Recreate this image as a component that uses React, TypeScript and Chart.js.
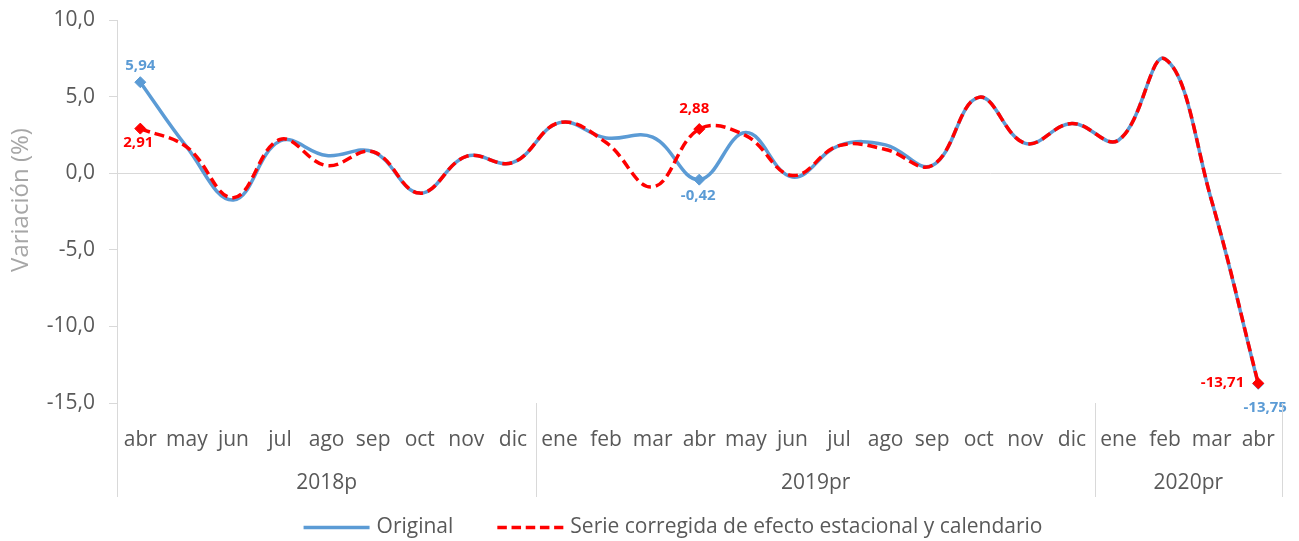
import React, { useEffect, useRef } from 'react';
import { Chart, registerables } from 'chart.js';

Chart.register(...registerables);

const months = ['abr', 'may', 'jun', 'jul', 'ago', 'sep', 'oct', 'nov', 'dic', 'ene', 'feb', 'mar', 'abr', 'may', 'jun', 'jul', 'ago', 'sep', 'oct', 'nov', 'dic', 'ene', 'feb', 'mar', 'abr'];
const yearLabels = ['2018p', '2019pr', '2020pr'];
const yearSpans = [9, 12, 4];
const original = [5.94, 1.7, -1.75, 2.1, 1.15, 1.4, -1.3, 1.1, 0.7, 3.3, 2.3, 2.35, -0.42, 2.65, -0.25, 1.8, 1.85, 0.5, 4.95, 1.95, 3.25, 2.15, 7.45, -1.8, -13.75];
const corregida = [2.91, 1.7, -1.6, 2.2, 0.5, 1.4, -1.3, 1.1, 0.7, 3.3, 2.0, -0.9, 2.88, 2.45, -0.15, 1.8, 1.55, 0.5, 4.95, 1.95, 3.25, 2.15, 7.45, -1.8, -13.71];
const markedIndices = [0, 12, 24];
const seriesNames = ['Original', 'Serie corregida de efecto estacional y calendario'];
const yTitle = 'Variación (%)';
const yMin = -15;
const yMax = 10;
const yStep = 5;

const FONT = "'Open Sans', 'Noto Sans', sans-serif";
const BLUE = '#5b9bd5';
const RED = '#ff0000';
const TEXT = '#595959';
const LINE = '#d9d9d9';

const fmt = (v: number, d: number) => v.toFixed(d).replace('.', ',');

// label placements: [datasetIndex][point index] => dx, dy, align
const labelPlacements: any = {
  0: { 0: { dx: 0, dy: -16, align: 'center' }, 12: { dx: -1, dy: 16.5, align: 'center' }, 24: { dx: 7, dy: 23.5, align: 'center' } },
  1: { 0: { dx: -2, dy: 14.5, align: 'center' }, 12: { dx: -5, dy: -20, align: 'center' }, 24: { dx: -14, dy: -1, align: 'right' } },
};

const valueLabelPlugin = {
  id: 'valueLabels',
  afterDatasetsDraw(chart: any) {
    const ctx = chart.ctx;
    ctx.save();
    ctx.font = `bold 15px ${FONT}`;
    ctx.textBaseline = 'middle';
    chart.data.datasets.forEach((ds: any, di: number) => {
      const meta = chart.getDatasetMeta(di);
      markedIndices.forEach((idx) => {
        const el = meta.data[idx];
        const p = labelPlacements[di][idx];
        if (!el || !p) return;
        ctx.fillStyle = ds.borderColor;
        ctx.textAlign = p.align;
        ctx.fillText(fmt(ds.data[idx], 2), el.x + p.dx, el.y + p.dy);
      });
    });
    ctx.restore();
  },
};

const groupAxisPlugin = {
  id: 'groupAxis',
  afterDraw(chart: any) {
    const ctx = chart.ctx;
    const xs = chart.scales.x;
    const area = chart.chartArea;
    const step = xs.getPixelForValue(1) - xs.getPixelForValue(0);
    ctx.save();
    ctx.strokeStyle = LINE;
    ctx.lineWidth = 1;
    ctx.fillStyle = TEXT;
    ctx.font = `21px ${FONT}`;
    ctx.textAlign = 'center';
    ctx.textBaseline = 'middle';
    let start = 0;
    const edges: number[] = [];
    yearSpans.forEach((span, gi) => {
      const x0 = xs.getPixelForValue(start) - step / 2;
      const x1 = xs.getPixelForValue(start + span - 1) + step / 2;
      if (gi === 0) edges.push(x0);
      edges.push(x1);
      ctx.fillText(yearLabels[gi], (x0 + x1) / 2, 483.5);
      start += span;
    });
    edges.forEach((x) => {
      const px = Math.round(x) + 0.5;
      ctx.beginPath();
      ctx.moveTo(px, area.bottom);
      ctx.lineTo(px, 497);
      ctx.stroke();
    });
    // rotated y-axis title
    ctx.save();
    ctx.translate(21, 200);
    ctx.rotate(-Math.PI / 2);
    ctx.fillStyle = '#a6a6a6';
    ctx.font = `24px ${FONT}`;
    ctx.fillText(yTitle, 0, 0);
    ctx.restore();
    ctx.restore();
  },
};

const customLegendPlugin = {
  id: 'customLegend',
  afterDraw(chart: any) {
    const ctx = chart.ctx;
    ctx.save();
    ctx.font = `21px ${FONT}`;
    ctx.textBaseline = 'middle';
    ctx.textAlign = 'left';
    const sample = 66;
    const gapText = 7;
    const gapItem = 44;
    const widths = seriesNames.map((n) => ctx.measureText(n).width);
    const total = sample * 2 + gapText * 2 + widths[0] + widths[1] + gapItem;
    let x = 673 - total / 2;
    const y = 527.5;
    const dsList = chart.data.datasets;
    seriesNames.forEach((name, i) => {
      const ds = dsList.find((d: any) => d.label === name);
      ctx.strokeStyle = ds.borderColor;
      ctx.lineWidth = 3.5;
      ctx.setLineDash(i === 1 ? [9.5, 4.7] : []);
      ctx.beginPath();
      ctx.moveTo(x, y);
      ctx.lineTo(x + sample, y);
      ctx.stroke();
      ctx.setLineDash([]);
      ctx.fillStyle = TEXT;
      ctx.fillText(name, x + sample + gapText, y);
      x += sample + gapText + widths[i] + gapItem;
    });
    ctx.restore();
  },
};

export default function App() {
  const ref = useRef<HTMLCanvasElement | null>(null);

  useEffect(() => {
    if (!ref.current) return;
    const pointRadius = months.map((_, i) => (markedIndices.includes(i) ? 5.5 : 0));
    const chart = new Chart(ref.current, {
      type: 'line',
      data: {
        labels: months,
        datasets: [
          {
            label: seriesNames[0],
            data: original,
            borderColor: BLUE,
            backgroundColor: BLUE,
            borderWidth: 3.5,
            tension: 0.4,
            pointStyle: 'rectRot',
            pointRadius,
            pointHoverRadius: pointRadius,
            pointBorderWidth: 1,
            pointBackgroundColor: BLUE,
            pointBorderColor: BLUE,
            order: 1,
          },
          {
            label: seriesNames[1],
            data: corregida,
            borderColor: RED,
            backgroundColor: RED,
            borderWidth: 3.5,
            borderDash: [10, 5],
            tension: 0.4,
            pointStyle: 'rectRot',
            pointRadius,
            pointHoverRadius: pointRadius,
            pointBorderWidth: 1,
            pointBackgroundColor: RED,
            pointBorderColor: RED,
            order: 0,
          },
        ],
      },
      options: {
        responsive: false,
        animation: false,
        layout: { padding: { top: 20, right: 12, bottom: 40, left: 0 } },
        plugins: {
          legend: { display: false },
          tooltip: { enabled: false },
        },
        scales: {
          x: {
            offset: true,
            grid: { display: false, drawTicks: false },
            border: { display: false },
            ticks: {
              color: TEXT,
              font: { family: FONT, size: 21 },
              padding: 24,
              autoSkip: false,
              maxRotation: 0,
            },
            afterFit: (scale: any) => {
              scale.height = 98;
            },
          },
          y: {
            min: yMin,
            max: yMax,
            ticks: {
              stepSize: yStep,
              color: TEXT,
              font: { family: FONT, size: 21 },
              padding: 14,
              callback: (v: any) => fmt(Number(v), 1),
            },
            grid: {
              color: (c: any) => (c.tick && c.tick.value === 0 ? LINE : 'rgba(0,0,0,0)'),
              tickColor: LINE,
              tickLength: 8,
              lineWidth: 1,
            },
            border: { display: true, color: LINE, width: 1 },
            title: { display: false },
            afterFit: (scale: any) => {
              scale.width = 117;
              scale.paddingTop = 0;
              scale.paddingBottom = 0;
            },
          },
        },
      },
      plugins: [valueLabelPlugin, groupAxisPlugin, customLegendPlugin],
    } as any);
    return () => chart.destroy();
  }, []);

  return (
    <div style={{ position: 'absolute', left: 0, top: 0, width: 1299, height: 541 }}>
      <canvas ref={ref} width={1299} height={541} />
    </div>
  );
}
